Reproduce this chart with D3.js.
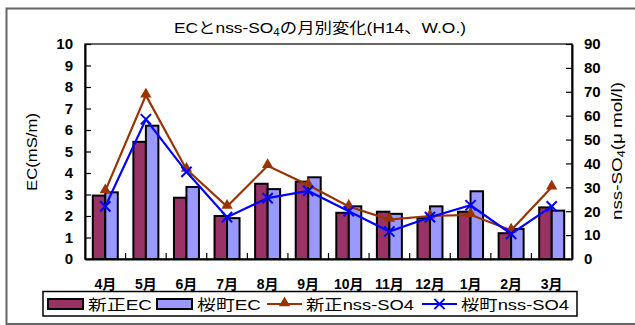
<!DOCTYPE html>
<html>
<head>
<meta charset="utf-8">
<script src="https://cdn.jsdelivr.net/npm/d3@7"></script>
<style>
  html, body { margin: 0; padding: 0; background: #fff; }
  svg { display: block; }
  text { font-family: "Liberation Sans", "Noto Sans CJK JP", sans-serif; fill: #000; }
</style>
</head>
<body>
<svg id="chart" width="635" height="325"></svg>
<script>
// Monthly EC and nss-SO4 (fiscal H14, April to March)
const months = ["4月","5月","6月","7月","8月","9月","10月","11月","12月","1月","2月","3月"];
const shinjoEC = [2.95, 5.45, 2.85, 2.0, 3.5, 3.6, 2.15, 2.2, 1.9, 2.2, 1.2, 2.4];
const sakuraEC = [3.1, 6.2, 3.35, 1.9, 3.25, 3.8, 2.45, 2.1, 2.45, 3.15, 1.4, 2.25];
const shinjoSO4 = [28.5, 68.5, 37.5, 22, 39, 31, 22, 16.5, 18, 18.5, 12, 30];
const sakuraSO4 = [22, 58.5, 36.5, 17.5, 25.5, 28.5, 20, 11.5, 17.5, 22.5, 10.5, 22];
const ecTicks = d3.range(0, 11, 1);
const so4Ticks = d3.range(0, 91, 10);

const colShinjoBar = "#993366";
const colSakuraBar = "#9999ff";
const colShinjoLine = "#993300";
const colSakuraLine = "#0000ff";

const svg = d3.select("#chart");
const plot = { left: 85, right: 572, top: 44, bottom: 259 };

const x = d3.scaleBand().domain(months).range([plot.left, plot.right]).padding(0);
const yEC = d3.scaleLinear().domain([0, 10]).range([plot.bottom, plot.top]);
const ySO4 = d3.scaleLinear().domain([0, 90]).range([plot.bottom, plot.top]);
const barW = 12.5;
const cx = m => x(m) + x.bandwidth() / 2;

// outer frame
svg.append("rect")
  .attr("x", 6.5).attr("y", 8.5).attr("width", 640).attr("height", 315.5)
  .attr("fill", "#fff").attr("stroke", "#666").attr("stroke-width", 2);

// title
const title = svg.append("text")
  .attr("x", 320).attr("y", 33)
  .attr("text-anchor", "middle")
  .attr("font-size", 15)
  .attr("textLength", 292).attr("lengthAdjust", "spacingAndGlyphs");
title.append("tspan").text("ECとnss-SO");
title.append("tspan").attr("font-size", 10).attr("dy", 3).text("4");
title.append("tspan").attr("dy", -3).text("の月別変化(H14、W.O.)");

// plot frame
svg.append("rect")
  .attr("x", plot.left).attr("y", plot.top)
  .attr("width", plot.right - plot.left).attr("height", plot.bottom - plot.top)
  .attr("fill", "#fff").attr("stroke", "#333").attr("stroke-width", 1.5);

// bars
const barG = svg.append("g").attr("stroke", "#000").attr("stroke-width", 2);
barG.selectAll("rect.shinjo").data(months).join("rect")
  .attr("class", "shinjo")
  .attr("x", m => cx(m) - barW)
  .attr("y", (m, i) => yEC(shinjoEC[i]))
  .attr("width", barW)
  .attr("height", (m, i) => yEC(0) - yEC(shinjoEC[i]))
  .attr("fill", colShinjoBar);
barG.selectAll("rect.sakura").data(months).join("rect")
  .attr("class", "sakura")
  .attr("x", m => cx(m))
  .attr("y", (m, i) => yEC(sakuraEC[i]))
  .attr("width", barW)
  .attr("height", (m, i) => yEC(0) - yEC(sakuraEC[i]))
  .attr("fill", colSakuraBar);

// axes (ticks drawn inward)
const tickFont = g => g.selectAll("text")
  .attr("font-size", 15).attr("font-weight", "bold").attr("fill", "#000");

const axL = svg.append("g").attr("transform", `translate(${plot.left},0)`)
  .call(d3.axisLeft(yEC).tickValues(ecTicks).tickFormat(d3.format("d")).tickSizeInner(-6).tickSizeOuter(0).tickPadding(12));
axL.select(".domain").attr("stroke", "#000").attr("stroke-width", 2);
axL.selectAll(".tick line").attr("stroke", "#000").attr("stroke-width", 1.2);
tickFont(axL);

const axR = svg.append("g").attr("transform", `translate(${plot.right},0)`)
  .call(d3.axisRight(ySO4).tickValues(so4Ticks).tickFormat(d3.format("d")).tickSizeInner(-6).tickSizeOuter(0).tickPadding(12));
axR.select(".domain").attr("stroke", "#000").attr("stroke-width", 2);
axR.selectAll(".tick line").attr("stroke", "#000").attr("stroke-width", 1.2);
tickFont(axR);

// category axis with separator ticks between months
const axB = svg.append("g").attr("transform", `translate(0,${plot.bottom})`)
  .call(d3.axisBottom(x).tickSize(0).tickPadding(20));
axB.select(".domain").attr("stroke", "#000").attr("stroke-width", 2);
axB.selectAll("text").attr("font-size", 14).attr("font-weight", "bold").attr("fill", "#000");
axB.selectAll("line.sep").data(months.slice(1)).join("line")
  .attr("class", "sep")
  .attr("x1", m => x(m)).attr("x2", m => x(m))
  .attr("y1", 0).attr("y2", -6)
  .attr("stroke", "#000").attr("stroke-width", 1.2);

// axis titles
svg.append("text")
  .attr("transform", "translate(37,152) rotate(-90)")
  .attr("text-anchor", "middle").attr("font-size", 15)
  .attr("textLength", 78).attr("lengthAdjust", "spacingAndGlyphs")
  .text("EC(mS/m)");
const rt = svg.append("text")
  .attr("transform", "translate(622,151) rotate(-90)")
  .attr("text-anchor", "middle").attr("font-size", 15)
  .attr("textLength", 138).attr("lengthAdjust", "spacingAndGlyphs");
rt.append("tspan").text("nss-SO");
rt.append("tspan").attr("font-size", 10).attr("dy", 3).text("4");
rt.append("tspan").attr("dy", -3).text("(μ mol/l)");

// line series
const lineGen = yScale => d3.line().x(d => cx(d.m)).y(d => yScale(d.v));
const shinjoPts = months.map((m, i) => ({ m, v: shinjoSO4[i] }));
const sakuraPts = months.map((m, i) => ({ m, v: sakuraSO4[i] }));

svg.append("path").datum(shinjoPts)
  .attr("d", lineGen(ySO4)).attr("fill", "none")
  .attr("stroke", colShinjoLine).attr("stroke-width", 2.2);
const tri = d3.symbol().type(d3.symbolTriangle).size(55);
svg.selectAll("path.tri").data(shinjoPts).join("path")
  .attr("class", "tri")
  .attr("d", tri)
  .attr("transform", d => `translate(${cx(d.m)},${ySO4(d.v) - 1})`)
  .attr("fill", colShinjoLine);

svg.append("path").datum(sakuraPts)
  .attr("d", lineGen(ySO4)).attr("fill", "none")
  .attr("stroke", colSakuraLine).attr("stroke-width", 2.2);
const cross = d3.symbol().type(d3.symbolX).size(70);
svg.selectAll("path.xmark").data(sakuraPts).join("path")
  .attr("class", "xmark")
  .attr("d", cross)
  .attr("transform", d => `translate(${cx(d.m)},${ySO4(d.v)})`)
  .attr("fill", "none").attr("stroke", colSakuraLine).attr("stroke-width", 2);

// legend
const lg = svg.append("g");
lg.append("rect")
  .attr("x", 43).attr("y", 291.5).attr("width", 534).attr("height", 24.5)
  .attr("fill", "#fff").attr("stroke", "#000").attr("stroke-width", 1.5);
const ly = 304;
const legendItems = [
  { type: "bar", fill: colShinjoBar, label: "新正EC", sx: 48, tx: 88, tw: 64 },
  { type: "bar", fill: colSakuraBar, label: "桜町EC", sx: 157, tx: 197, tw: 64 },
  { type: "tri", stroke: colShinjoLine, label: "新正nss-SO4", sx: 267, tx: 306, tw: 108 },
  { type: "x", stroke: colSakuraLine, label: "桜町nss-SO4", sx: 422, tx: 461, tw: 108 }
];
legendItems.forEach(it => {
  if (it.type === "bar") {
    lg.append("rect").attr("x", it.sx).attr("y", ly - 5).attr("width", 35).attr("height", 10)
      .attr("fill", it.fill).attr("stroke", "#000").attr("stroke-width", 2);
  } else {
    lg.append("line").attr("x1", it.sx).attr("x2", it.sx + 35).attr("y1", ly).attr("y2", ly)
      .attr("stroke", it.stroke).attr("stroke-width", 2.2);
    if (it.type === "tri") {
      lg.append("path").attr("d", tri).attr("transform", `translate(${it.sx + 17.5},${ly - 1})`)
        .attr("fill", it.stroke);
    } else {
      lg.append("path").attr("d", cross).attr("transform", `translate(${it.sx + 17.5},${ly})`)
        .attr("fill", "none").attr("stroke", it.stroke).attr("stroke-width", 2);
    }
  }
  lg.append("text").attr("x", it.tx).attr("y", ly + 5.5)
    .attr("font-size", 15)
    .attr("textLength", it.tw).attr("lengthAdjust", "spacingAndGlyphs")
    .text(it.label);
});
</script>
</body>
</html>
